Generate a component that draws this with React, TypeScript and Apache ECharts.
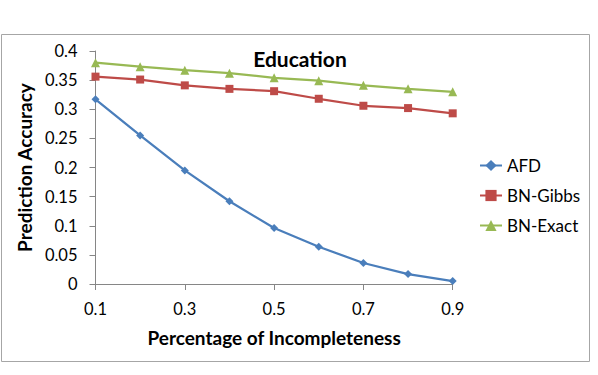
import React, { useEffect, useRef } from "react";
import * as echarts from "echarts";

const categories = ["0.1", "0.2", "0.3", "0.4", "0.5", "0.6", "0.7", "0.8", "0.9"];
const afd = [0.317, 0.255, 0.195, 0.142, 0.096, 0.064, 0.036, 0.017, 0.005];
const bnGibbs = [0.356, 0.351, 0.341, 0.335, 0.331, 0.318, 0.306, 0.302, 0.293];
const bnExact = [0.38, 0.373, 0.367, 0.362, 0.354, 0.349, 0.341, 0.335, 0.33];

const FONT = "Lato";

export default function App() {
  const ref = useRef<HTMLDivElement>(null);
  useEffect(() => {
    const chart = echarts.init(ref.current!, null, { renderer: "svg" });
    const mk = (name: string, data: number[], color: string, symbol: string, size: number) => ({
      name,
      type: "line",
      data,
      symbol,
      symbolSize: size,
      showAllSymbol: true,
      lineStyle: { color, width: 2.25 },
      itemStyle: { color },
    });
    chart.setOption({
      animation: false,
      backgroundColor: "#ffffff",
      textStyle: { fontFamily: FONT },
      graphic: [
        {
          type: "rect",
          shape: { x: 1.5, y: 34.5, width: 588, height: 327 },
          style: { fill: "none", stroke: "#a6a6a6", lineWidth: 1 },
          silent: true,
        },
      ],
      title: {
        text: "Education",
        left: 295,
        top: 43,
        textAlign: "center",
        textStyle: { fontFamily: FONT, fontWeight: "bold", fontSize: 21, color: "#000" },
      },
      legend: {
        orient: "vertical",
        left: 474,
        top: 152,
        itemWidth: 22,
        itemHeight: 14,
        itemGap: 13,
        textStyle: { fontFamily: FONT, fontSize: 17, color: "#000" },
        data: ["AFD", "BN-Gibbs", "BN-Exact"],
      },
      grid: { left: 95.5, right: 145.3, top: 51, bottom: 91, containLabel: false },
      xAxis: {
        type: "category",
        data: categories,
        boundaryGap: false,
        name: "Percentage of Incompleteness",
        nameLocation: "middle",
        nameGap: 44,
        nameTextStyle: { fontFamily: FONT, fontWeight: "bold", fontSize: 19, color: "#000" },
        axisLine: { lineStyle: { color: "#868686", width: 1 } },
        axisTick: { show: true, interval: 1, length: 6, lineStyle: { color: "#868686" } },
        axisLabel: { interval: 1, fontFamily: FONT, fontSize: 16.5, color: "#000", margin: 16 },
        splitLine: { show: false },
      },
      yAxis: {
        type: "value",
        min: 0,
        max: 0.4,
        interval: 0.05,
        name: "Prediction Accuracy",
        nameLocation: "middle",
        nameRotate: 90,
        nameGap: 55,
        nameTextStyle: { fontFamily: FONT, fontWeight: "bold", fontSize: 19, color: "#000" },
        axisLine: { show: true, lineStyle: { color: "#868686", width: 1 } },
        axisTick: { show: true, length: 6, lineStyle: { color: "#868686" } },
        axisLabel: { fontFamily: FONT, fontSize: 16.5, color: "#000", margin: 18 },
        splitLine: { show: false },
      },
      series: [
        mk("AFD", afd, "#4a7ebb", "diamond", 8),
        mk("BN-Gibbs", bnGibbs, "#be4b48", "rect", 8),
        mk("BN-Exact", bnExact, "#98b954", "triangle", 9),
      ],
    });
    return () => chart.dispose();
  }, []);
  return (
    <div
      ref={ref}
      style={{ position: "absolute", left: 0, top: 0, width: 598, height: 375 }}
    />
  );
}
